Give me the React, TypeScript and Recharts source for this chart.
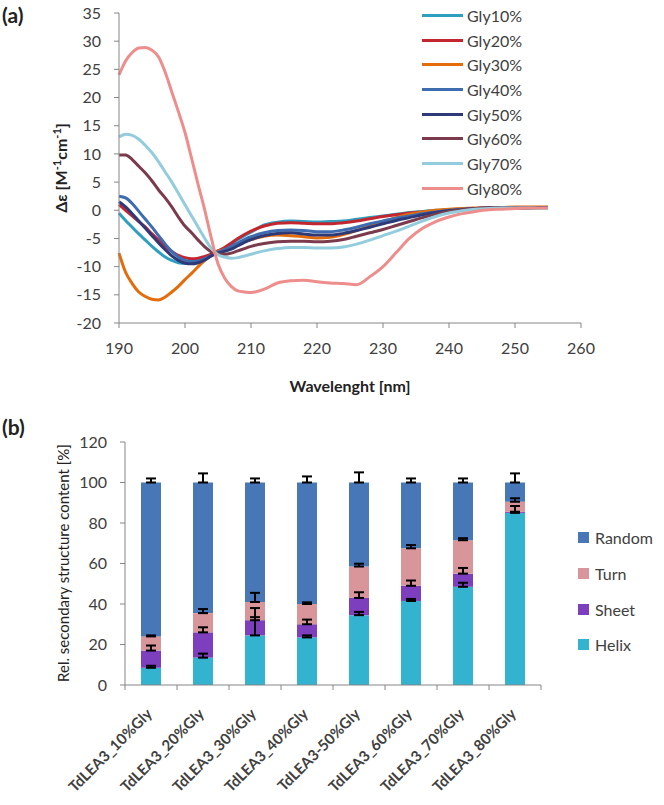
import React from "react";
import {
  LineChart,
  Line,
  BarChart,
  Bar,
  ErrorBar,
  XAxis,
  YAxis,
  Legend,
} from "recharts";

const FONT = "Lato, 'DejaVu Sans', sans-serif";
const TEXT = "#404040";
const AXIS = "#868686";

// ---- (a) CD spectra ----
const wavelengths = [
  190, 191, 192, 193, 194, 195, 196, 197, 198, 199, 200, 201, 202, 203, 204, 205, 206, 207, 208, 209, 210,
  212, 214, 216, 218, 220, 222, 224, 226, 228, 230, 232, 234, 236, 238, 240, 242, 244, 246, 248, 250, 252, 254, 255,
];

const gly10 = [
  -0.5, -1.8, -3.0, -4.2, -5.3, -6.4, -7.4, -8.3, -8.9, -9.3, -9.4, -9.2, -8.8, -8.3, -7.8, -7.2, -6.8, -6.0, -5.2, -4.5, -3.9,
  -2.6, -2.1, -1.9, -2.0, -2.1, -2.0, -1.9, -1.6, -1.3, -1.0, -0.7, -0.4, -0.2, 0.0, 0.1, 0.2, 0.3, 0.4, 0.4, 0.5, 0.5, 0.5, 0.5,
];
const gly20 = [
  1.0, 0.0, -1.0, -2.0, -3.0, -4.2, -5.3, -6.4, -7.3, -8.0, -8.4, -8.6, -8.5, -8.2, -7.8, -7.2, -6.6, -5.8, -5.0, -4.3, -3.7,
  -2.8, -2.3, -2.2, -2.3, -2.4, -2.4, -2.2, -1.9, -1.5, -1.1, -0.8, -0.5, -0.3, -0.1, 0.1, 0.2, 0.3, 0.3, 0.3, 0.4, 0.4, 0.4, 0.4,
];
const gly30 = [
  -7.6, -11.0, -13.0, -14.5, -15.3, -15.8, -15.9, -15.4, -14.5, -13.5, -12.3, -11.2, -10.0, -8.9, -8.0, -7.3, -7.0, -6.6, -6.1, -5.6, -5.2,
  -4.6, -4.4, -4.5, -4.7, -4.9, -4.8, -4.3, -3.6, -2.8, -2.0, -1.3, -0.7, -0.3, 0.0, 0.2, 0.3, 0.4, 0.5, 0.5, 0.6, 0.6, 0.6, 0.6,
];
const gly40 = [
  2.5, 2.2, 1.2, -0.2, -1.6, -3.0, -4.5, -6.0, -7.3, -8.3, -8.9, -9.1, -9.0, -8.6, -8.0, -7.4, -7.0, -6.4, -5.8, -5.2, -4.7,
  -4.0, -3.6, -3.5, -3.6, -3.8, -3.8, -3.5, -3.0, -2.4, -1.9, -1.4, -1.0, -0.6, -0.3, 0.0, 0.2, 0.3, 0.4, 0.4, 0.4, 0.5, 0.5, 0.5,
];
const gly50 = [
  1.5, 0.6, -0.6, -1.9, -3.2, -4.5, -5.8, -7.0, -8.1, -8.9, -9.4, -9.5, -9.3, -8.8, -8.1, -7.6, -7.3, -6.9, -6.3, -5.7, -5.2,
  -4.5, -4.1, -4.0, -4.2, -4.4, -4.4, -4.1, -3.6, -3.0, -2.4, -1.8, -1.3, -0.8, -0.4, -0.1, 0.1, 0.3, 0.4, 0.4, 0.4, 0.4, 0.4, 0.4,
];
const gly60 = [
  9.8, 9.8, 9.0, 7.8, 6.6, 5.2, 3.6, 2.2, 0.6, -1.2, -2.8, -4.0, -5.3, -6.5, -7.4, -7.8, -7.8, -7.6, -7.2, -6.8, -6.4,
  -5.9, -5.6, -5.5, -5.5, -5.6, -5.5, -5.2, -4.6, -4.0, -3.4, -2.7, -2.0, -1.3, -0.7, -0.2, 0.1, 0.3, 0.4, 0.4, 0.4, 0.4, 0.4, 0.4,
];
const gly70 = [
  13.0, 13.5, 13.3, 12.6, 11.5, 10.2, 8.6, 6.8, 5.0, 3.0, 1.0, -1.0, -3.0, -5.0, -6.8, -7.9, -8.3, -8.5, -8.4, -8.1, -7.8,
  -7.2, -6.8, -6.6, -6.6, -6.7, -6.7, -6.5, -6.0, -5.3, -4.5, -3.7, -2.8, -1.9, -1.1, -0.5, -0.1, 0.2, 0.3, 0.4, 0.4, 0.4, 0.3, 0.3,
];
const gly80 = [
  24.0, 26.5, 28.0, 28.8, 28.9, 28.4, 27.2, 24.5, 21.0, 17.5, 13.8, 9.2, 4.5, 0.0, -5.0, -9.5, -12.0, -13.5, -14.3, -14.5, -14.6,
  -14.0, -12.9, -12.5, -12.4, -12.7, -12.9, -13.0, -13.2, -11.8, -10.0, -7.5, -5.0, -3.2, -2.0, -1.2, -0.6, -0.2, 0.1, 0.2, 0.3, 0.4, 0.4, 0.4,
];

const seriesNames = ["Gly10%", "Gly20%", "Gly30%", "Gly40%", "Gly50%", "Gly60%", "Gly70%", "Gly80%"];
const seriesColors = ["#2F9FC0", "#C3262E", "#E46C0A", "#3D6CB0", "#2E3A78", "#7B3B4C", "#93CDDD", "#EE8E8C"];
const seriesValues = [gly10, gly20, gly30, gly40, gly50, gly60, gly70, gly80];

const xTicks = [190, 200, 210, 220, 230, 240, 250, 260];
const yTicks = [-20, -15, -10, -5, 0, 5, 10, 15, 20, 25, 30, 35];

const spectra = wavelengths.map((w, i) => {
  const row: Record<string, number> = { w };
  seriesValues.forEach((vals, s) => {
    row[`s${s}`] = vals[i];
  });
  return row;
});

// ---- (b) secondary structure ----
const categories = [
  "TdLEA3_10%Gly",
  "TdLEA3_20%Gly",
  "TdLEA3_30%Gly",
  "TdLEA3_40%Gly",
  "TdLEA3-50%Gly",
  "TdLEA3_60%Gly",
  "TdLEA3_70%Gly",
  "TdLEA3_80%Gly",
];
const helix = [8.5, 13.5, 24.5, 23.5, 34.5, 41.5, 48.5, 85];
const sheet = [8.5, 12.5, 7.5, 6.5, 8.5, 7.5, 6.5, 0.5];
const turn = [7.0, 9.5, 9.0, 10.0, 15.5, 18.5, 16.5, 5.0];
const random = [76, 64.5, 59, 60, 41.5, 32.5, 28.5, 9.5];
const helixErr = [1, 2, 9, 1, 1.6, 1, 2, 3.4];
const sheetErr = [2.5, 2.5, 6, 2.3, 2.8, 2.6, 2.8, 0];
const turnErr = [0.5, 2, 4.5, 0.8, 1.4, 1.6, 1, 1.7];
const randomErr = [2, 4.5, 2, 3, 5, 2, 2, 4.5];
const pctTicks = [0, 20, 40, 60, 80, 100, 120];
const bandTicks = [0, 1, 2, 3, 4, 5, 6, 7, 8];
const legendOrder = ["Random", "Turn", "Sheet", "Helix"];

const structure = categories.map((c, i) => ({
  pos: i + 0.5,
  name: c,
  helix: helix[i],
  sheet: sheet[i],
  turn: turn[i],
  random: random[i],
  helixErr: [0, helixErr[i]],
  sheetErr: [0, sheetErr[i]],
  turnErr: [0, turnErr[i]],
  randomErr: [0, randomErr[i]],
}));

const tickStyle = { fill: TEXT, fontSize: 16, fontFamily: FONT };

const SpectraLegend = (props: any) => {
  const { payload } = props;
  return (
    <div style={{ fontFamily: FONT, fontSize: 16, color: TEXT }}>
      {payload.map((p: any) => (
        <div key={p.value} style={{ display: "flex", alignItems: "center", height: 24.7 }}>
          <span style={{ display: "inline-block", width: 41, height: 3, background: p.color, marginRight: 4 }} />
          <span>{p.value}</span>
        </div>
      ))}
    </div>
  );
};

const StructureLegend = (props: any) => {
  const payload = [...props.payload].sort(
    (a: any, b: any) => legendOrder.indexOf(a.value) - legendOrder.indexOf(b.value)
  );
  return (
    <div style={{ fontFamily: FONT, fontSize: 16, color: TEXT }}>
      {payload.map((p: any) => (
        <div key={p.value} style={{ display: "flex", alignItems: "center", height: 35.7 }}>
          <span style={{ display: "inline-block", width: 11, height: 11, background: p.color, marginRight: 6 }} />
          <span>{p.value}</span>
        </div>
      ))}
    </div>
  );
};

const CategoryTick = (props: any) => {
  const { x, y, payload } = props;
  const label = categories[payload.value];
  if (label === undefined) return null;
  return (
    <g transform={`translate(${x + 28},${y + 23})`}>
      <text
        textAnchor="end"
        transform="rotate(-45)"
        fontSize={15}
        fontWeight="bold"
        fill={TEXT}
        fontFamily={FONT}
      >
        {label}
      </text>
    </g>
  );
};

const abs = (extra: React.CSSProperties): React.CSSProperties => ({
  position: "absolute",
  fontFamily: FONT,
  color: "#222",
  whiteSpace: "nowrap",
  ...extra,
});

export default function App() {
  return (
    <div style={{ position: "absolute", left: 0, top: 0, width: 664, height: 805, background: "#fff" }}>
      <div style={{ position: "absolute", left: 0, top: 0 }}>
        <LineChart width={664} height={400} data={spectra} margin={{ top: 13, right: 83, bottom: 7, left: 0 }}>
          <XAxis
            dataKey="w"
            type="number"
            domain={[190, 260]}
            ticks={xTicks}
            interval={0}
            height={70}
            stroke={AXIS}
            tickSize={5}
            tickMargin={15}
            tick={tickStyle}
          />
          <YAxis
            type="number"
            domain={[-20, 35]}
            ticks={yTicks}
            interval={0}
            width={119}
            stroke={AXIS}
            tickSize={5}
            tickMargin={13}
            tick={tickStyle}
          />
          <Legend
            layout="vertical"
            align="center"
            verticalAlign="middle"
            wrapperStyle={{ left: 422, top: 3, width: 130 }}
            content={<SpectraLegend />}
          />
          {seriesNames.map((n, s) => (
            <Line
              key={n}
              name={n}
              dataKey={`s${s}`}
              type="monotone"
              stroke={seriesColors[s]}
              strokeWidth={3}
              dot={false}
              isAnimationActive={false}
            />
          ))}
        </LineChart>
      </div>

      <div style={{ position: "absolute", left: 0, top: 400 }}>
        <BarChart width={664} height={405} data={structure} margin={{ top: 42, right: 123, bottom: 0, left: 0 }}>
          <XAxis
            dataKey="pos"
            type="number"
            domain={[0, 8]}
            ticks={bandTicks}
            interval={0}
            height={120}
            stroke={AXIS}
            tickSize={5}
            tickMargin={2}
            tick={<CategoryTick />}
          />
          <YAxis
            type="number"
            domain={[0, 120]}
            ticks={pctTicks}
            interval={0}
            width={125}
            stroke={AXIS}
            tickSize={5}
            tickMargin={13}
            tick={tickStyle}
          />
          <Legend
            layout="vertical"
            align="center"
            verticalAlign="middle"
            wrapperStyle={{ left: 578, top: 120, width: 90 }}
            content={<StructureLegend />}
          />
          <Bar dataKey="helix" name="Helix" stackId="a" fill="#33B3CF" barSize={20} isAnimationActive={false}>
            <ErrorBar dataKey="helixErr" width={5} strokeWidth={2} stroke="#000" direction="y" />
          </Bar>
          <Bar dataKey="sheet" name="Sheet" stackId="a" fill="#7E3FBF" barSize={20} isAnimationActive={false}>
            <ErrorBar dataKey="sheetErr" width={5} strokeWidth={2} stroke="#000" direction="y" />
          </Bar>
          <Bar dataKey="turn" name="Turn" stackId="a" fill="#D9969A" barSize={20} isAnimationActive={false}>
            <ErrorBar dataKey="turnErr" width={5} strokeWidth={2} stroke="#000" direction="y" />
          </Bar>
          <Bar dataKey="random" name="Random" stackId="a" fill="#4777B6" barSize={20} isAnimationActive={false}>
            <ErrorBar dataKey="randomErr" width={5} strokeWidth={2} stroke="#000" direction="y" />
          </Bar>
        </BarChart>
      </div>

      <div style={abs({ left: 2, top: 2, fontSize: 21, fontWeight: "bold" })}>(a)</div>
      <div style={abs({ left: 2, top: 414, fontSize: 21, fontWeight: "bold" })}>(b)</div>
      <div
        style={abs({
          left: 60,
          top: 168,
          fontSize: 16,
          fontWeight: "bold",
          transform: "translate(-50%, -50%) rotate(-90deg)",
        })}
      >
        Δε [M<sup style={{ fontSize: 11 }}>-1</sup>cm<sup style={{ fontSize: 11 }}>-1</sup>]
      </div>
      <div style={abs({ left: 350, top: 385, fontSize: 16, fontWeight: "bold", transform: "translate(-50%, -50%)" })}>
        Wavelenght [nm]
      </div>
      <div
        style={abs({
          left: 63,
          top: 563,
          fontSize: 15,
          transform: "translate(-50%, -50%) rotate(-90deg)",
        })}
      >
        Rel. secondary structure content [%]
      </div>
    </div>
  );
}
